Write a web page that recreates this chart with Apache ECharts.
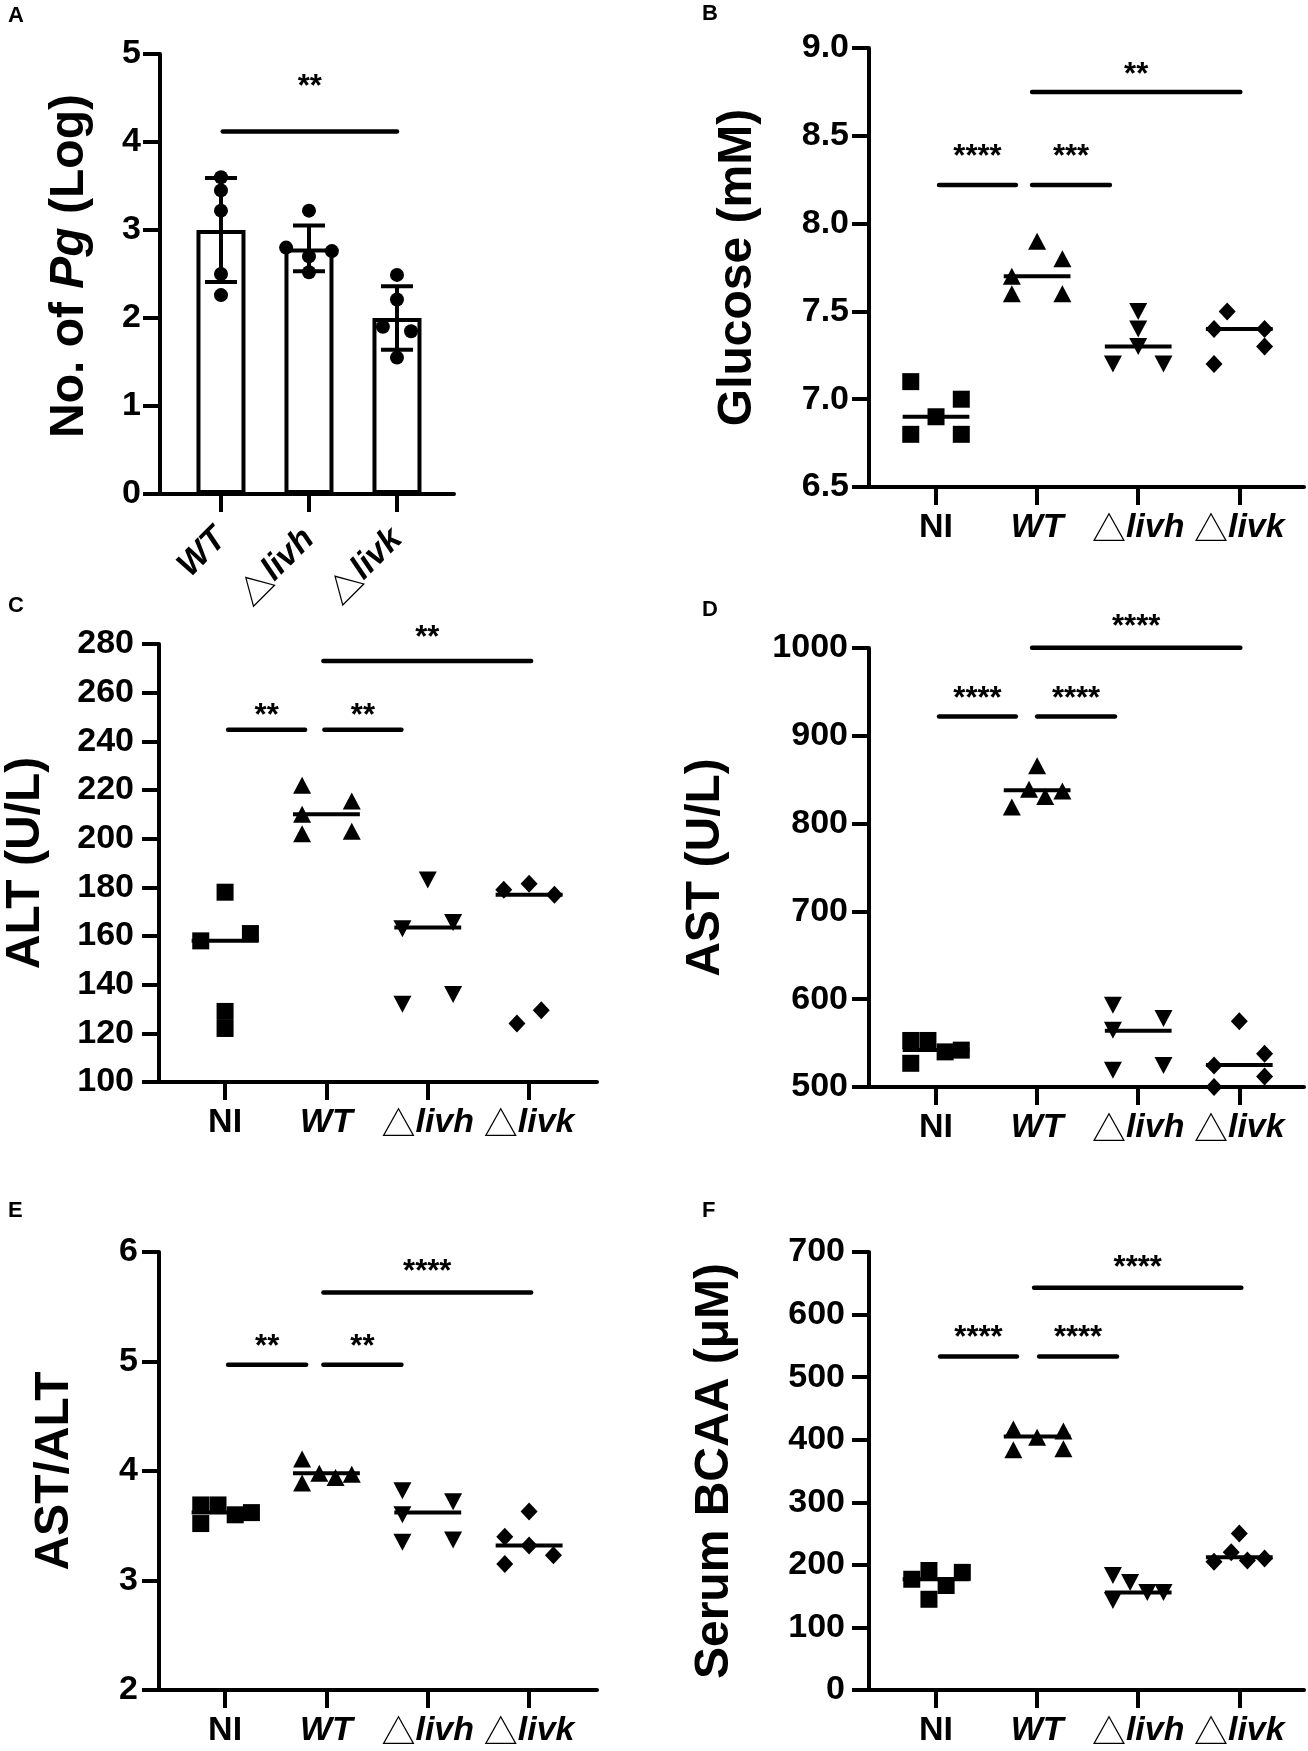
<!DOCTYPE html>
<html lang="en">
<head>
    <meta charset="UTF-8">
    <title>Pg infection and serum markers</title>
    <script src="https://cdn.jsdelivr.net/npm/echarts@6/dist/echarts.min.js"></script>
    <style>
        body { margin: 0; background: #fff; }
        #container { width: 1308px; height: 1751px; }
    </style>
</head>
<body>
<div id="container"></div>

<script>
    // group names and tick labels (rich text keys: b = bold, bi = bold italic, tri = triangle)
    var groups = ['NI', 'WT', 'livh', 'livk'];
    var tickLabels = ['{b|NI}', '{bi|WT}', '{tri|△}{bi|livh}', '{tri|△}{bi|livk}'];
    var tickLabelsA = ['{bi|WT}', '{tri|△}{bi|livh}', '{tri|△}{bi|livk}'];
    var panelLetters = ['A', 'B', 'C', 'D', 'E', 'F'];

    // A: number of Pg (log), groups WT / livh / livk
    var pgMean = [3.0, 2.79, 2.0];
    var pgSD = [0.59, 0.26, 0.36];
    var pgPoints = [[3.60, 3.45, 3.22, 2.50, 2.26], [2.80, 3.22, 2.76, 2.70, 2.52], [2.49, 2.21, 1.90, 1.85, 1.55]];
    var pgJitter = [[0, 0, 0, 0, 0], [-0.26, 0, 0.26, 0, 0], [0, 0, -0.16, 0.16, 0]];
    var pgSig = [[1.02, 3.0, 4.12, 4.71, '**']];

    // B: glucose (mM)
    var glucose = [[7.1, 6.9, 7.0, 6.8, 6.8], [7.9, 7.7, 7.8, 7.6, 7.6], [7.5, 7.4, 7.3, 7.2, 7.2], [7.5, 7.4, 7.4, 7.3, 7.2]];
    var glucoseJitter = [[-0.25, 0, 0.25, -0.25, 0.25], [0, -0.25, 0.25, -0.25, 0.25], [0, 0, 0, -0.25, 0.25], [-0.12, -0.25, 0.25, 0.25, -0.25]];
    var glucoseMedian = [6.9, 7.7, 7.3, 7.4];
    var glucoseSig = [[1.03, 1.79, 8.22, 8.42, '****'], [1.95, 2.72, 8.22, 8.42, '***'], [1.95, 4.01, 8.75, 8.89, '**']];

    // C: ALT (U/L)
    var alt = [[178, 158, 161, 129, 122], [222, 210, 202, 215.5, 203], [183, 163, 165.5, 132, 136], [179, 181.5, 177, 124, 129.5]];
    var altJitter = [[0, -0.24, 0.25, 0, 0], [-0.24, -0.24, -0.24, 0.25, 0.25], [0, -0.25, 0.25, -0.25, 0.25], [-0.25, 0, 0.25, -0.12, 0.12]];
    var altMedian = [158, 210, 163.5, 177];
    var altSig = [[1.03, 1.79, 244.8, 253.7, '**'], [1.98, 2.74, 244.8, 253.7, '**'], [1.97, 4.02, 273, 285.6, '**']];

    // D: AST (U/L)
    var ast = [[553, 553, 540, 542, 527], [866, 839, 819, 831, 837], [593, 564.5, 578, 519, 524.5], [575, 538, 512, 524.5, 500]];
    var astJitter = [[-0.25, -0.08, 0.09, 0.25, -0.25], [0, -0.08, -0.25, 0.08, 0.25], [-0.25, -0.25, 0.25, -0.25, 0.25], [0, 0.25, 0.25, -0.25, -0.25]];
    var astMedian = [542, 838, 564, 525];
    var astSig = [[1.03, 1.79, 922, 950, '****'], [2.0, 2.77, 922, 950, '****'], [1.95, 4.01, 1000.4, 1033, '****']];

    // E: AST/ALT
    var ratio = [[3.69, 3.69, 3.60, 3.62, 3.52], [4.11, 3.89, 3.98, 3.94, 3.97], [3.82, 3.60, 3.72, 3.35, 3.37], [3.63, 3.40, 3.32, 3.23, 3.15]];
    var ratioJitter = [[-0.24, -0.07, 0.1, 0.26, -0.24], [-0.24, -0.24, -0.07, 0.09, 0.25], [-0.25, -0.25, 0.25, -0.25, 0.25], [0, -0.24, 0, 0.24, -0.24]];
    var ratioMedian = [3.62, 3.98, 3.62, 3.32];
    var ratioSig = [[1.03, 1.80, 4.97, 5.20, '**'], [1.97, 2.74, 4.97, 5.20, '**'], [1.97, 4.02, 5.63, 5.89, '****']];

    // F: serum BCAA (uM)
    var bcaa = [[177, 191, 145, 167, 188], [417, 384, 404, 414, 385.5], [183, 172, 156, 156, 143], [250, 205, 220, 207, 210]];
    var bcaaJitter = [[-0.24, -0.07, -0.07, 0.1, 0.26], [-0.235, -0.235, 0, 0.26, 0.26], [-0.25, -0.08, 0.09, 0.25, -0.25], [0, -0.25, -0.08, 0.08, 0.25]];
    var bcaaMedian = [177, 405, 156, 212];
    var bcaaSig = [[1.04, 1.80, 533, 574, '****'], [2.02, 2.79, 533, 574, '****'], [1.97, 4.02, 643, 687, '****']];

    var FONT = 'Liberation Sans';
    var TICK_FONT = 34;

    var richLabels = {
        b: {fontFamily: FONT, fontWeight: 'bold', fontSize: TICK_FONT, color: '#000'},
        bi: {fontFamily: FONT, fontWeight: 'bold', fontStyle: 'italic', fontSize: TICK_FONT, color: '#000'},
        tri: {fontFamily: 'Noto Sans CJK SC', fontWeight: 'normal', fontSize: TICK_FONT, color: '#000'}
    };

    var grids = [
        {left: 160, top: 54, width: 294, height: 440},
        {left: 869, top: 48, width: 435, height: 439},
        {left: 159, top: 644, width: 438, height: 438},
        {left: 869, top: 648, width: 435, height: 439},
        {left: 159, top: 1252, width: 438, height: 438},
        {left: 869, top: 1252, width: 435, height: 438}
    ];
    var letterPos = [[8, 5], [702, 3], [8, 595], [702, 599], [8, 1200], [702, 1200]];

    function axisLine() {
        return {show: true, onZero: false, lineStyle: {color: '#000', width: 4}};
    }

    function makeX(i, min, max, labels, rotate) {
        var ticks = labels.map(function (l, k) { return k + 1; });
        return {
            type: 'value', gridIndex: i, min: min, max: max,
            axisLine: axisLine(),
            splitLine: {show: false},
            axisTick: {show: true, length: 18, customValues: ticks, lineStyle: {color: '#000', width: 4}},
            axisLabel: {
                show: true, customValues: ticks, rotate: rotate || 0, margin: rotate ? 40 : 24,
                formatter: function (v) { return labels[Math.round(v) - 1]; },
                rich: richLabels
            }
        };
    }

    function makeY(i, min, max, interval, name, gap, decimals, margin, rich, pad) {
        return {
            type: 'value', gridIndex: i, min: min, max: max, interval: interval,
            name: name, nameLocation: 'middle', nameGap: gap, nameRotate: 90,
            nameTextStyle: {
                fontFamily: FONT, fontWeight: 'bold', fontSize: 48, color: '#000',
                rich: rich || {}, padding: pad || 0
            },
            axisLine: axisLine(),
            splitLine: {show: false},
            axisTick: {show: true, length: 17, lineStyle: {color: '#000', width: 4}},
            axisLabel: {
                show: true, margin: margin, showMinLabel: true, showMaxLabel: true,
                fontFamily: FONT, fontWeight: 'bold', fontSize: TICK_FONT, color: '#000',
                formatter: function (v) { return v.toFixed(decimals); }
            }
        };
    }

    var symbols = [
        {symbol: 'rect', size: 17, rotate: 0},
        {symbol: 'triangle', size: [18, 17], rotate: 0},
        {symbol: 'triangle', size: [18, 17], rotate: 180},
        {symbol: 'diamond', size: [17, 18], rotate: 0}
    ];

    function groupScatter(i, values, jitter) {
        return values.map(function (vals, g) {
            return {
                type: 'scatter', xAxisIndex: i, yAxisIndex: i, clip: false, z: 3,
                symbol: symbols[g].symbol, symbolSize: symbols[g].size, symbolRotate: symbols[g].rotate,
                itemStyle: {color: '#000', opacity: 1},
                data: vals.map(function (v, k) { return [g + 1 + jitter[g][k], v]; })
            };
        });
    }

    function medianSeries(i, medians) {
        return {
            type: 'custom', xAxisIndex: i, yAxisIndex: i, z: 4,
            data: medians.map(function (m, g) { return [g + 1, m]; }),
            renderItem: function (params, api) {
                var x = api.value(0), y = api.value(1);
                var a = api.coord([x - 0.33, y]), b = api.coord([x + 0.33, y]);
                return {
                    type: 'line',
                    shape: {x1: a[0], y1: a[1], x2: b[0], y2: b[1]},
                    style: {stroke: '#000', lineWidth: 4}
                };
            }
        };
    }

    function sigSeries(i, sig) {
        return {
            type: 'custom', xAxisIndex: i, yAxisIndex: i, z: 4, clip: false,
            data: sig.map(function (s) { return [s[0], s[1], s[2], s[3]]; }),
            renderItem: function (params, api) {
                var x1 = api.value(0), x2 = api.value(1), y = api.value(2), ty = api.value(3);
                var a = api.coord([x1, y]), b = api.coord([x2, y]);
                var t = api.coord([(x1 + x2) / 2, ty]);
                return {
                    type: 'group',
                    children: [
                        {type: 'line', shape: {x1: a[0], y1: a[1], x2: b[0], y2: b[1]},
                            style: {stroke: '#000', lineWidth: 4.5, lineCap: 'round'}},
                        {type: 'text', x: t[0], y: t[1] + 8,
                            style: {text: sig[params.dataIndex][4], fill: '#000',
                                font: 'bold 31px "' + FONT + '"', align: 'center', verticalAlign: 'middle'}}
                    ]
                };
            }
        };
    }

    var dom = document.getElementById('container');
    var myChart = echarts.init(dom, null, {renderer: 'canvas'});

    var titleRich = {
        it: {fontFamily: FONT, fontWeight: 'bold', fontStyle: 'italic', fontSize: 48, color: '#000'}
    };

    var series = [];
    // panel A: bars, error bars, dots
    series.push({
        type: 'bar', xAxisIndex: 0, yAxisIndex: 0, barWidth: 49, z: 2,
        itemStyle: {color: '#fff', borderColor: '#000', borderWidth: 4},
        data: pgMean.map(function (m, g) { return [g + 1, m]; })
    });
    series.push({
        type: 'custom', xAxisIndex: 0, yAxisIndex: 0, z: 3,
        data: pgMean.map(function (m, g) { return [g + 1, m, pgSD[g]]; }),
        renderItem: function (params, api) {
            var x = api.value(0), m = api.value(1), sd = api.value(2);
            var top = api.coord([x, m + sd]), bot = api.coord([x, m - sd]);
            var hw = 16;
            var st = {stroke: '#000', lineWidth: 4};
            return {
                type: 'group',
                children: [
                    {type: 'line', shape: {x1: top[0], y1: top[1], x2: bot[0], y2: bot[1]}, style: st},
                    {type: 'line', shape: {x1: top[0] - hw, y1: top[1], x2: top[0] + hw, y2: top[1]}, style: st},
                    {type: 'line', shape: {x1: bot[0] - hw, y1: bot[1], x2: bot[0] + hw, y2: bot[1]}, style: st}
                ]
            };
        }
    });
    pgPoints.forEach(function (vals, g) {
        series.push({
            type: 'scatter', xAxisIndex: 0, yAxisIndex: 0, clip: false, z: 4,
            symbol: 'circle', symbolSize: 14, itemStyle: {color: '#000', opacity: 1},
            data: vals.map(function (v, k) { return [g + 1 + pgJitter[g][k], v]; })
        });
    });
    series.push(sigSeries(0, pgSig));

    var dotPanels = [
        [1, glucose, glucoseJitter, glucoseMedian, glucoseSig],
        [2, alt, altJitter, altMedian, altSig],
        [3, ast, astJitter, astMedian, astSig],
        [4, ratio, ratioJitter, ratioMedian, ratioSig],
        [5, bcaa, bcaaJitter, bcaaMedian, bcaaSig]
    ];
    dotPanels.forEach(function (p) {
        series = series.concat(groupScatter(p[0], p[1], p[2]));
        series.push(medianSeries(p[0], p[3]));
        series.push(sigSeries(p[0], p[4]));
    });

    var option = {
        backgroundColor: '#fff',
        animation: false,
        title: panelLetters.map(function (l, i) {
            return {
                text: l, left: letterPos[i][0], top: letterPos[i][1], padding: 0,
                textStyle: {fontFamily: FONT, fontWeight: 'bold', fontSize: 22, color: '#000'}
            };
        }),
        grid: grids.map(function (g) {
            return {left: g.left, top: g.top, width: g.width, height: g.height, containLabel: false, outerBoundsMode: 'none'};
        }),
        xAxis: [
            makeX(0, 0.307, 3.648, tickLabelsA, 45),
            makeX(1, 0.337, 4.64, tickLabels),
            makeX(2, 0.348, 4.67, tickLabels),
            makeX(3, 0.337, 4.64, tickLabels),
            makeX(4, 0.348, 4.67, tickLabels),
            makeX(5, 0.337, 4.64, tickLabels)
        ],
        yAxis: [
            makeY(0, 0, 5, 1, 'No. of {it|Pg} (Log)', 66, 0, 19, titleRich, [0, 0, 0, 16]),
            makeY(1, 6.5, 9.0, 0.5, 'Glucose (mM)', 107, 1, 20),
            makeY(2, 100, 280, 20, 'ALT (U/L)', 109, 0, 25),
            makeY(3, 500, 1000, 100, 'AST (U/L)', 139, 0, 21),
            makeY(4, 2, 6, 1, 'AST/ALT', 80, 0, 21),
            makeY(5, 0, 700, 100, 'Serum BCAA (μM)', 130, 0, 24)
        ],
        series: series
    };

    myChart.setOption(option);
</script>
</body>
</html>
